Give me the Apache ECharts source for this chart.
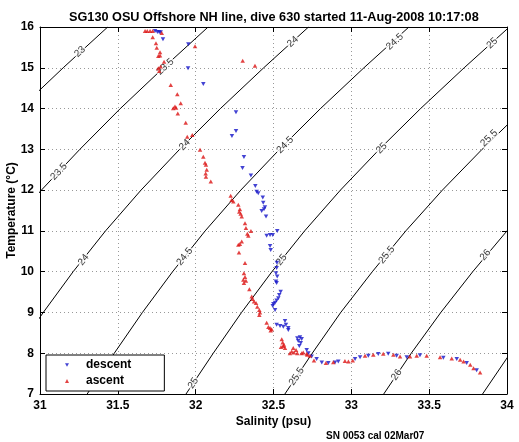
<!DOCTYPE html>
<html><head><meta charset="utf-8">
<script src="https://cdn.jsdelivr.net/npm/echarts@6/dist/echarts.min.js"></script>
<style>html,body{margin:0;padding:0;background:#fff}#c{width:519px;height:442px}</style>
</head><body><div id="c"></div>
<script>
const titleText = 'SG130 OSU Offshore NH line, dive 630 started 11-Aug-2008 10:17:08';
const noteText = 'SN 0053 cal 02Mar07';
const xName = 'Salinity (psu)';
const yName = 'Temperature (\u00B0C)';

// isopycnal contours (sigma-theta), salinity read at each temperature
const contourT = [7, 8, 9, 10, 11, 12, 13, 14, 15, 16];
const contourLevels = [23, 23.5, 24, 24.5, 25, 25.5, 26, 26.5];
const s23   = [29.398, 29.569, 29.747, 29.936, 30.142, 30.368, 30.614, 30.873, 31.149, 31.435];
const s23_5 = [30.033, 30.205, 30.384, 30.575, 30.782, 31.009, 31.256, 31.516, 31.793, 32.080];
const s24   = [30.668, 30.841, 31.021, 31.213, 31.421, 31.649, 31.897, 32.159, 32.437, 32.725];
const s24_5 = [31.303, 31.477, 31.658, 31.852, 32.061, 32.290, 32.539, 32.802, 33.081, 33.370];
const s25   = [31.938, 32.113, 32.295, 32.490, 32.700, 32.930, 33.180, 33.445, 33.725, 34.015];
const s25_5 = [32.573, 32.749, 32.932, 33.135, 33.350, 33.585, 33.840, 34.110, 34.400, 34.690];
const s26   = [33.208, 33.385, 33.575, 33.780, 34.000, 34.235, 34.490, 34.760, 35.050, 35.340];
const s26_5 = [33.843, 34.021, 34.210, 34.415, 34.640, 34.880, 35.135, 35.410, 35.700, 36.000];
const contourS = [s23, s23_5, s24, s24_5, s25, s25_5, s26, s26_5];

// contour label placements
const labelLevels = [23, 23.5, 23.5, 24, 24, 24, 24.5, 24.5, 24.5, 25, 25, 25, 25, 25.5, 25.5, 25.5, 26, 26];
const labelS = [31.257, 31.805, 31.122, 32.624, 31.930, 31.280, 33.280, 32.575, 31.930, 33.905, 33.195, 32.552, 31.985, 33.885, 33.228, 32.649, 33.862, 33.291];
const labelT = [15.395, 15.027, 12.453, 15.64, 13.108, 10.289, 15.64, 13.108, 10.37, 15.6, 13.027, 10.289, 7.267, 13.272, 10.412, 7.429, 10.412, 7.47];

// descent samples
const descentS = [31.739,31.754,31.766,31.775,31.790,31.953,31.951,32.049,32.259,32.259,32.233,32.310,32.301,32.355,32.383,32.392,32.402,32.431,32.434,32.445,32.439,32.424,32.452,32.524,32.456,32.478,32.495,32.478,32.482,32.522,32.520,32.516,32.524,32.516,32.520,32.546,32.537,32.531,32.520,32.510,32.499,32.495,32.510,32.520,32.542,32.563,32.574,32.580,32.595,32.595,32.653,32.670,32.681,32.659,32.675,32.666,32.713,32.724,32.745,32.777,32.810,32.852,32.895,32.916,33.024,33.056,33.109,33.173,33.237,33.291,33.356,33.441,33.591,33.677,33.741,33.805];
const descentT = [15.90,15.88,15.87,15.87,15.70,15.58,14.99,14.60,13.91,13.45,13.33,12.81,12.54,12.36,12.10,11.96,11.92,11.82,11.69,11.58,11.53,11.49,11.35,11.00,10.88,10.90,10.90,10.63,10.53,10.22,10.09,9.96,9.88,9.76,9.72,9.51,9.43,9.35,9.29,9.24,9.21,9.16,9.06,8.70,8.67,8.65,8.79,8.70,8.62,8.57,8.37,8.39,8.35,8.30,8.25,8.18,8.08,8.00,7.92,7.86,7.77,7.76,7.77,7.80,7.86,7.90,7.94,7.98,7.99,7.94,7.90,7.95,7.89,7.86,7.76,7.58];

// ascent samples
const ascentS = [33.827,33.785,33.764,33.721,33.699,33.645,33.570,33.484,33.420,33.377,33.313,33.270,33.205,33.141,33.088,33.009,32.981,32.959,32.884,32.837,32.760,32.734,32.713,32.691,32.681,32.717,32.653,32.632,32.645,32.627,32.606,32.617,32.574,32.567,32.563,32.559,32.553,32.548,32.488,32.482,32.478,32.467,32.456,32.409,32.413,32.409,32.396,32.388,32.375,32.366,32.360,32.345,32.323,32.310,32.306,32.317,32.310,32.317,32.278,32.284,32.296,32.274,32.338,32.355,32.332,32.323,32.317,32.296,32.289,32.280,32.284,32.274,32.242,32.231,32.225,32.097,32.066,32.064,32.071,32.066,32.060,32.049,32.028,31.978,31.946,31.936,31.885,31.856,31.874,31.867,31.904,31.882,31.840,32.381,32.302,31.996,31.766,31.760,31.775,31.797,31.771,31.760,31.771,31.750,31.745,31.724,31.782,31.675,31.689,31.707,31.724];
const ascentT = [7.53,7.63,7.72,7.80,7.84,7.87,7.90,7.94,7.94,7.92,7.92,7.96,7.99,7.96,7.94,7.82,7.80,7.81,7.78,7.76,7.82,7.94,7.99,8.02,8.00,7.96,8.00,8.02,8.08,8.13,8.00,8.04,8.13,8.21,8.18,8.26,8.34,8.15,8.59,8.56,8.62,8.64,8.75,8.94,9.00,9.06,9.14,9.23,9.27,9.33,9.39,9.57,9.78,9.72,9.80,9.87,9.96,10.21,10.47,10.68,10.74,10.66,10.88,11.00,10.93,11.07,11.19,11.35,11.42,11.47,11.53,11.64,11.72,11.76,11.86,12.21,12.33,12.41,12.50,12.62,12.67,12.82,12.99,13.35,13.31,13.65,13.88,14.01,14.02,14.05,14.13,14.35,14.58,15.05,15.17,15.53,14.92,14.99,15.03,15.15,15.30,15.29,15.38,15.49,15.60,15.75,15.85,15.90,15.90,15.90,15.90];

const FONT = '"Liberation Sans", Arial, Helvetica, sans-serif';
const zip = (a, b) => a.map((v, i) => [v, b[i]]);
const downTri = 'path://M0,0L10,0L5,8.66Z';

const chart = echarts.init(document.getElementById('c'), null, {renderer: 'canvas'});

const axisCommon = {
  type: 'value',
  axisLine: {show: true, onZero: false, lineStyle: {color: '#000', width: 1}},
  axisTick: {show: true, inside: true, length: 5, lineStyle: {color: '#000'}},
};

const contourSeries = contourLevels.map((lv, k) => ({
  name: 'sigma ' + lv,
  type: 'line',
  data: zip(contourS[k], contourT),
  symbol: 'none',
  silent: true,
  clip: true,
  z: 2,
  lineStyle: {color: '#000', width: 1},
  animation: false
}));

function labelAngle(lv, t) {
  const k = contourLevels.indexOf(lv);
  const arr = contourS[k];
  let j = 0;
  while (j < contourT.length - 2 && contourT[j + 1] < t) j++;
  const p1 = chart.convertToPixel({gridIndex: 0}, [arr[j], contourT[j]]);
  const p2 = chart.convertToPixel({gridIndex: 0}, [arr[j + 1], contourT[j + 1]]);
  return Math.atan2(p1[1] - p2[1], p2[0] - p1[0]) * 180 / Math.PI;
}

function labelData(withAngles) {
  return labelLevels.map((lv, i) => {
    const item = {name: String(lv), value: [labelS[i], labelT[i]]};
    if (withAngles) item.label = {rotate: labelAngle(lv, labelT[i])};
    return item;
  });
}

const option = {
  backgroundColor: '#fff',
  animation: false,
  title: [
    {text: titleText, left: 64, top: 6,
     textStyle: {fontFamily: FONT, fontSize: 12.7, fontWeight: 'bold', color: '#000'}},
    {text: noteText, left: 321, top: 426,
     textStyle: {fontFamily: FONT, fontSize: 10, fontWeight: 'bold', color: '#000'}}
  ],
  grid: {left: 40, right: 12, top: 27, bottom: 48, containLabel: false, outerBoundsMode: 'none'},
  legend: {
    orient: 'vertical', left: 46, top: 355, z: 10,
    data: [{name: 'descent', icon: downTri}, {name: 'ascent', icon: 'triangle'}],
    itemWidth: 4, itemHeight: 4, itemGap: 4,
    padding: [4, 33, 4, 19],
    borderColor: '#000', borderWidth: 1, backgroundColor: '#fff', borderRadius: 0,
    selectedMode: false,
    textStyle: {fontFamily: FONT, fontSize: 12, fontWeight: 'bold', color: '#000', padding: [0, 0, 0, 12]}
  },
  xAxis: [
    Object.assign({}, axisCommon, {
      min: 31, max: 34, interval: 0.5, position: 'bottom',
      name: xName, nameLocation: 'middle', nameGap: 22, nameMoveOverlap: false,
      nameTextStyle: {fontFamily: FONT, fontSize: 12, fontWeight: 'bold', color: '#000'},
      axisLabel: {fontFamily: FONT, fontSize: 12, fontWeight: 'bold', color: '#000', margin: 6},
      splitLine: {show: true, lineStyle: {color: '#999', width: 1, type: [1, 3]}}
    }),
    Object.assign({}, axisCommon, {
      min: 31, max: 34, interval: 0.5, position: 'top',
      axisLabel: {show: false}, splitLine: {show: false}
    })
  ],
  yAxis: [
    Object.assign({}, axisCommon, {
      min: 7, max: 16, interval: 1, position: 'left',
      name: yName, nameLocation: 'middle', nameGap: 22, nameMoveOverlap: false,
      nameTextStyle: {fontFamily: FONT, fontSize: 12, fontWeight: 'bold', color: '#000'},
      axisLabel: {fontFamily: FONT, fontSize: 12, fontWeight: 'bold', color: '#000', margin: 6},
      splitLine: {show: true, lineStyle: {color: '#999', width: 1, type: [1, 3]}}
    }),
    Object.assign({}, axisCommon, {
      min: 7, max: 16, interval: 1, position: 'right',
      axisLabel: {show: false}, splitLine: {show: false}
    })
  ],
  series: contourSeries.concat([
    {
      name: 'contour labels',
      type: 'scatter',
      data: labelData(false),
      symbolSize: 2,
      itemStyle: {color: 'rgba(255,255,255,0)'},
      silent: true,
      z: 3,
      label: {
        show: true, position: 'inside', formatter: p => p.name,
        fontFamily: FONT, fontSize: 10, color: '#000',
        backgroundColor: '#fff', padding: [0, 1]
      }
    },
    {
      name: 'descent', type: 'scatter',
      data: zip(descentS, descentT),
      symbol: downTri, symbolSize: [4.5, 4],
      itemStyle: {color: '#1414c8'}, z: 4
    },
    {
      name: 'ascent', type: 'scatter',
      data: zip(ascentS, ascentT),
      symbol: 'triangle', symbolSize: [4.5, 4],
      itemStyle: {color: '#dc1414'}, z: 4
    }
  ])
};

chart.setOption(option);
chart.setOption({series: [{name: 'contour labels', data: labelData(true)}]});
</script>
</body></html>
